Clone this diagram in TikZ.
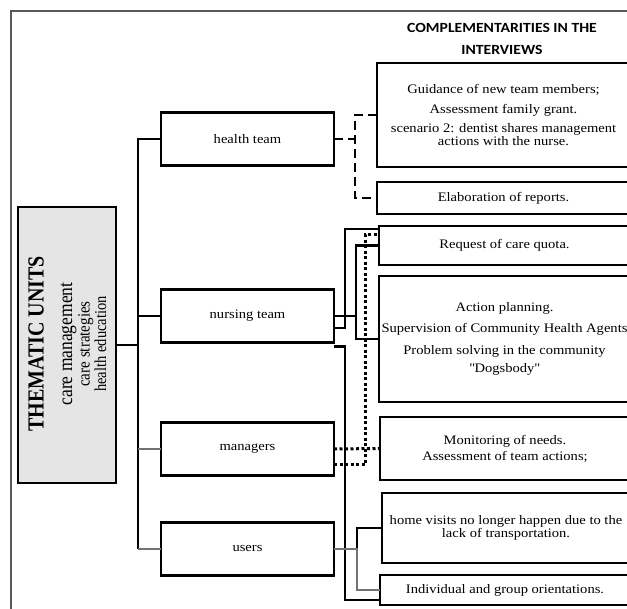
\documentclass[tikz,border=0pt]{standalone}
\usepackage{fontspec}
\setmainfont[FakeStretch=1.12]{Liberation Serif}
\newfontfamily\headfont[FakeStretch=1.12]{Carlito}
\newfontfamily\unitsfont{Liberation Serif}
\usetikzlibrary{positioning}

\tikzset{
	unit/.style={draw, line width=2.8pt, outer sep=0pt, inner sep=0pt, minimum width=173pt, minimum height=53pt, font=\fontsize{13}{13}\selectfont},
	finding/.style={draw, line width=2.8pt, outer sep=0pt, inner sep=0pt, anchor=north west, align=center, font=\fontsize{13}{13}\selectfont},
	link/.style={line width=2.6pt},
	greylink/.style={line width=2.2pt, draw=black!55},
	dashlink/.style={line width=2.8pt, dash pattern=on 9pt off 5pt},
	dotlink/.style={line width=3pt, dash pattern=on 3pt off 2.5pt},
}

\begin{document}
\begin{tikzpicture}[x=1pt, y=-1pt]
			\useasboundingbox (0,0) rectangle (627,609);
			\draw[line width=1.4pt, black!65] (11,609) -- (11,11) -- (627,11);
			
			\node[font=\headfont\bfseries\fontsize{14}{22}\selectfont, align=center] (head) at (502,39) {COMPLEMENTARITIES IN THE\\INTERVIEWS};
			
			\node[draw, fill=black!10, line width=2.8pt, outer sep=0pt, minimum width=98pt, minimum height=276pt] (themes) at (67,345) {};
			\node[rotate=90, yscale=1.15, anchor=base, font=\unitsfont\bfseries\fontsize{20}{20}\selectfont] (themes title) at (43.5,344) {THEMATIC UNITS};
			\node[rotate=90, yscale=1.15, anchor=base, font=\unitsfont\fontsize{17.5}{18}\selectfont] (themes a) at (72,344) {care management};
			\node[rotate=90, yscale=1.15, anchor=base, font=\unitsfont\fontsize{15}{15}\selectfont] (themes b) at (89.5,344) {care strategies};
			\node[rotate=90, yscale=1.15, anchor=base, font=\unitsfont\fontsize{14.5}{15}\selectfont] (themes c) at (106,344) {health education};
			
			\node[unit] (health) at (247.5,139) {health team};
			\node[unit, below=124pt of health] (nursing) {nursing team};
			\node[unit, below=80pt of nursing] (managers) {managers};
			\node[unit, below=47pt of managers] (users) {users};
			
			\node[finding, minimum width=253pt, minimum height=104pt] (guide) at (377,63) {Guidance of new team members;\\[7pt]Assessment family grant.\\[6pt]scenario 2: dentist shares management\\actions with the nurse.};
			\node[finding, minimum width=253pt, minimum height=32pt] (reports) at (377,182) {Elaboration of reports.};
			\node[finding, minimum width=251pt, minimum height=39pt] (quota) at (379,226) {Request of care quota.};
			\node[finding, minimum width=251pt, minimum height=126pt] (planning) at (379,276) {Action planning.\\[8pt]Supervision of Community Health Agents\\[9pt]Problem solving in the community\\[5pt]\textquotedbl Dogsbody\textquotedbl};
			\node[finding, minimum width=250pt, minimum height=63pt] (needs) at (380,417) {Monitoring of needs.\\[3pt]Assessment of team actions;};
			\node[finding, minimum width=248pt, minimum height=70pt] (visits) at (382,493) {home visits no longer happen due to the\\lack of transportation.};
			\node[finding, minimum width=250pt, minimum height=30pt] (orient) at (380,575) {Individual and group orientations.};
			
			\coordinate (spine) at (138,345);
			\coordinate (hub) at (355,139);
			\coordinate (fork) at (356,316);
			
			\draw[link] (health.west) -| (spine) -- (spine |- users.west);
			\draw[link] (nursing.west) -- (spine |- nursing.west);
			\draw[greylink] (managers.west) -- (spine |- managers.west);
			\draw[greylink] (users.west) -- (spine |- users.west);
			\draw[link] (themes.east) -- (spine);
			
			\draw[dashlink] (health.east) -- (hub);
			\draw[dashlink] (guide.west) -| (hub) |- (reports.west);
			
			\draw[link] (nursing.east) -- (fork);
			\draw[link] (quota.west) -| (fork) |- (planning.west);
			\draw[link] ([yshift=-12pt]nursing.east) -- ++(11,0) |- ([yshift=-3pt]quota.north west);
			\draw[link] ([yshift=-4pt]nursing.south east) -- ++(11,0) |- ([yshift=-10pt]orient.west);
			
			\draw[dotlink] (managers.east) -- (needs.west);
			\draw[dotlink] ([yshift=-16pt]managers.east) -- ++(31,0) |- ([yshift=-9pt]quota.north west);
			
			\draw[link] (users.east) -- ++(23,0) |- (visits.west);
			\draw[greylink] (users.east) -- ++(23,0) |- (orient.west);
\end{tikzpicture}
\end{document}
